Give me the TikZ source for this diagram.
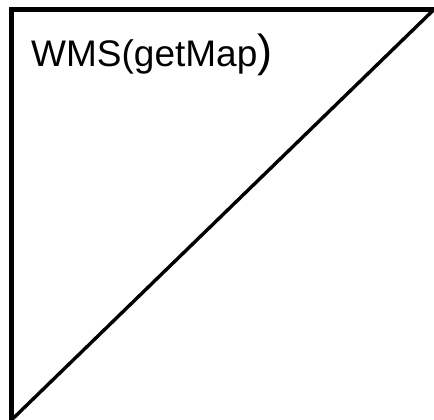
\documentclass[tikz,border=0pt]{standalone}
\usepackage{fontspec}
\setmainfont{Liberation Sans}
\begin{document}
\begin{tikzpicture}[x=1pt,y=1pt,frame/.style={line width=5pt,line cap=rect},diag/.style={line width=3.4pt},title/.style={anchor=base west,inner sep=0pt,font=\fontsize{37}{40}\selectfont}]
\def\w{434};
\def\h{420};
\def\lx{11.5};
\def\ty{410.5};

\useasboundingbox (0,0) rectangle (\w,\h);

\coordinate (BL) at (\lx,0);
\coordinate (TL) at (\lx,\ty);
\coordinate (TR) at (\w,\ty);

\draw[frame] (BL) -- (TL) -- (TR);
\draw[diag] (BL) -- (TR);

\node[title] (wms) at (31,353) {WMS(getMap{\fontsize{45}{48}\selectfont)}};
\end{tikzpicture}
\end{document}
